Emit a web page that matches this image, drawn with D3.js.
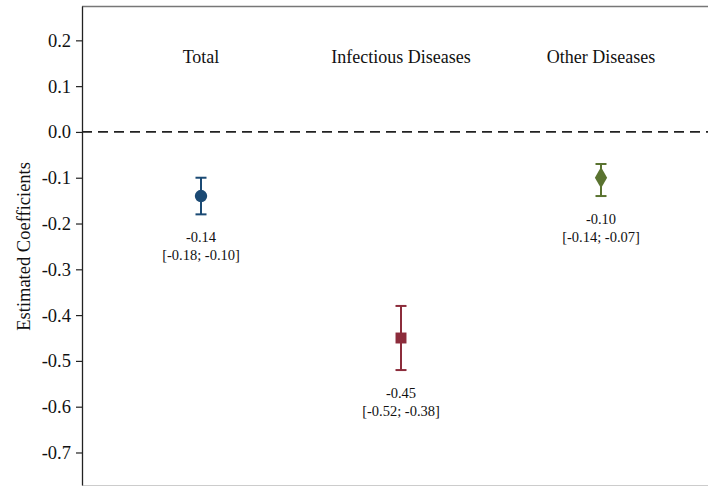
<!DOCTYPE html>
<html>
<head>
<meta charset="utf-8">
<script src="https://cdn.jsdelivr.net/npm/d3@7"></script>
<style>
  body { margin: 0; background: #fff; }
  svg text { font-family: "Times New Roman", "Liberation Serif", "DejaVu Serif", serif; fill: #111; }
</style>
</head>
<body>
<div id="chart"></div>
<script>
// data
const categories = ["Total", "Infectious Diseases", "Other Diseases"];
const estimates = [-0.14, -0.45, -0.10];
const lowerCI = [-0.18, -0.52, -0.14];
const upperCI = [-0.10, -0.38, -0.07];
const yTicks = [0.2, 0.1, 0.0, -0.1, -0.2, -0.3, -0.4, -0.5, -0.6, -0.7];
const colors = ["#1b4a74", "#8c2c3b", "#5a7330"];
const shapes = [d3.symbolCircle, d3.symbolSquare, d3.symbolDiamond];

const W = 708, H = 487;
const margin = { top: 6, right: 0, bottom: 2, left: 82 };
const serif = '"Times New Roman", "Liberation Serif", serif';

// hyphen instead of unicode minus, as in the original
const fmt1 = v => d3.format(".1f")(v).replace("\u2212", "-");
const fmt2 = v => d3.format(".2f")(v).replace("\u2212", "-");

const svg = d3.select("#chart")
    .append("svg")
    .attr("width", W)
    .attr("height", H);

// scales
const y = d3.scaleLinear()
    .domain([0.275, -0.771])
    .range([margin.top, H - margin.bottom]);

const x = d3.scaleBand()
    .domain(categories)
    .range([101, 701]);
const cx = c => x(c) + x.bandwidth() / 2;

// frame: top and bottom lines
svg.append("line")
    .attr("x1", margin.left).attr("x2", W)
    .attr("y1", margin.top + 0.5).attr("y2", margin.top + 0.5)
    .attr("stroke", "#777").attr("stroke-width", 1.5);
svg.append("line")
    .attr("x1", margin.left).attr("x2", W)
    .attr("y1", H - margin.bottom + 0.5).attr("y2", H - margin.bottom + 0.5)
    .attr("stroke", "#ccc").attr("stroke-width", 1);

// y axis
const yAxis = svg.append("g")
    .attr("transform", `translate(${margin.left},0)`)
    .attr("font-family", serif)
    .call(d3.axisLeft(y)
        .tickValues(yTicks)
        .tickFormat(fmt1)
        .tickSize(6)
        .tickPadding(5)
        .tickSizeOuter(0));
yAxis.select(".domain").attr("stroke", "#222").attr("stroke-width", 1.3);
yAxis.selectAll(".tick line").attr("stroke", "#222").attr("stroke-width", 1.2);
yAxis.selectAll(".tick text")
    .style("font-family", serif)
    .style("font-size", "18.5px")
    .attr("fill", "#111");

// y axis title
svg.append("text")
    .attr("transform", `translate(26,${y(-0.25)}) rotate(-90)`)
    .attr("text-anchor", "middle")
    .attr("dominant-baseline", "middle")
    .style("font-size", "18.5px")
    .text("Estimated Coefficients");

// zero reference line
svg.append("line")
    .attr("x1", margin.left).attr("x2", W)
    .attr("y1", y(0)).attr("y2", y(0))
    .attr("stroke", "#222")
    .attr("stroke-width", 1.8)
    .attr("stroke-dasharray", "10,6");

// category titles
svg.selectAll(".cat")
    .data(categories)
    .join("text")
    .attr("class", "cat")
    .attr("x", d => cx(d))
    .attr("y", 63)
    .attr("text-anchor", "middle")
    .style("font-size", "18px")
    .text(d => d);

// error bars, markers and labels
categories.forEach((c, i) => {
    const g = svg.append("g");
    const xc = cx(c);
    g.append("line")
        .attr("x1", xc).attr("x2", xc)
        .attr("y1", y(lowerCI[i])).attr("y2", y(upperCI[i]))
        .attr("stroke", colors[i]).attr("stroke-width", 2);
    [lowerCI[i], upperCI[i]].forEach(v => {
        g.append("line")
            .attr("x1", xc - 5.5).attr("x2", xc + 5.5)
            .attr("y1", y(v)).attr("y2", y(v))
            .attr("stroke", colors[i]).attr("stroke-width", 2);
    });
    g.append("path")
        .attr("transform", `translate(${xc},${y(estimates[i])})`)
        .attr("d", d3.symbol().type(shapes[i]).size(i === 2 ? 130 : 120))
        .attr("fill", colors[i]);

    const ly = y(lowerCI[i]) + 28;
    g.append("text")
        .attr("x", xc).attr("y", ly)
        .attr("text-anchor", "middle")
        .style("font-size", "14.5px")
        .text(fmt2(estimates[i]));
    g.append("text")
        .attr("x", xc).attr("y", ly + 18)
        .attr("text-anchor", "middle")
        .style("font-size", "14.5px")
        .text(`[${fmt2(lowerCI[i])}; ${fmt2(upperCI[i])}]`);
});
</script>
</body>
</html>
